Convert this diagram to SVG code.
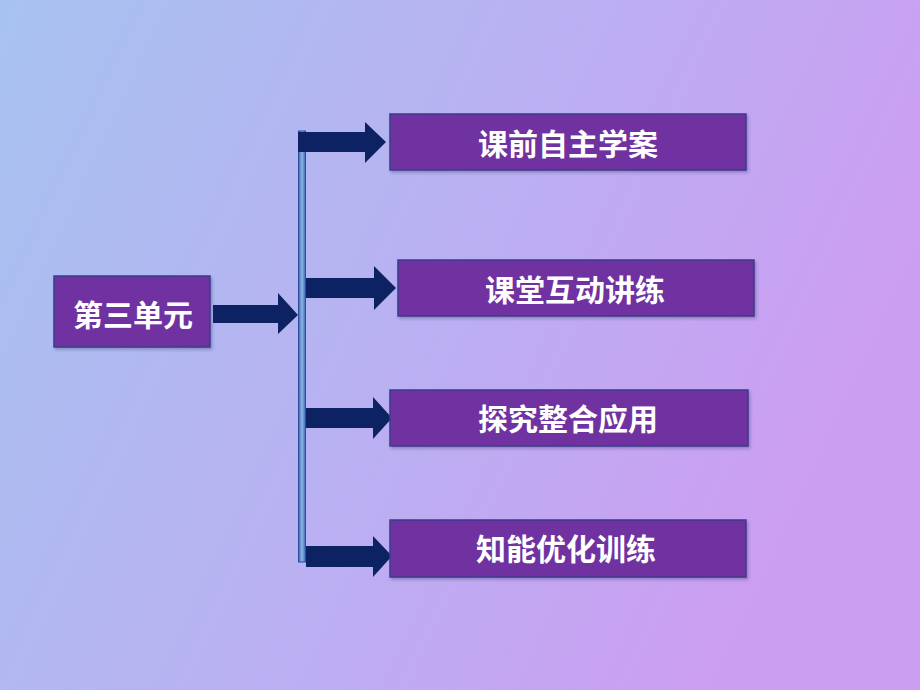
<svg xmlns="http://www.w3.org/2000/svg" width="920" height="690" viewBox="0 0 920 690">
<defs>
<linearGradient id="bg" x1="0" y1="0" x2="1" y2="0.35">
<stop offset="0" stop-color="#a7c2f0"/>
<stop offset="0.5" stop-color="#b8b2f2"/>
<stop offset="1" stop-color="#cc9ef2"/>
</linearGradient>
<linearGradient id="barg" x1="0" y1="0" x2="1" y2="0">
<stop offset="0" stop-color="#3a66b0"/>
<stop offset="0.5" stop-color="#8fb4ea"/>
<stop offset="1" stop-color="#3a66b0"/>
</linearGradient>
<filter id="sh" x="-10%" y="-20%" width="130%" height="150%">
<feDropShadow dx="1.5" dy="2" stdDeviation="1.5" flood-color="#303060" flood-opacity="0.35"/>
</filter>
<style>
.box{fill:#7030a0;stroke:#3c3c8c;stroke-width:1.5;filter:url(#sh)}
.t{fill:#ffffff;font-family:"Noto Sans CJK SC","Noto Sans CJK JP",sans-serif;font-weight:bold;font-size:30px;text-anchor:middle;dominant-baseline:central}
.arr{fill:#0d2263}
.bar{fill:url(#barg);stroke:#2a4f98;stroke-width:1}
</style>
</defs>
<rect width="920" height="690" fill="url(#bg)"/>
<g id="connectors">
<rect class="bar" x="298.5" y="131" width="7" height="431"/>
<polygon class="arr" points="298,132 365,132 365,122 386,142 365,163 365,152 298,152"/>
<polygon class="arr" points="213,305 278,305 278,293 298,315 278,334 278,323 213,323"/>
<polygon class="arr" points="306,278 374,278 374,266 396,288 374,310 374,298 306,298"/>
<polygon class="arr" points="306,408 373,408 373,397 392,418 373,439 373,428 306,428"/>
<polygon class="arr" points="306,546 373,546 373,536 392,556 373,577 373,567 306,567"/>
</g>
<g id="n0"><rect class="box" x="54" y="276" width="156" height="71"/><text class="t" x="133" y="313">第三单元</text></g>
<g id="n1"><rect class="box" x="390" y="114" width="356" height="56"/><text class="t" x="568" y="142">课前自主学案</text></g>
<g id="n2"><rect class="box" x="398" y="260" width="356" height="56"/><text class="t" x="575" y="288">课堂互动讲练</text></g>
<g id="n3"><rect class="box" x="390" y="390" width="358" height="56"/><text class="t" x="568" y="417">探究整合应用</text></g>
<g id="n4"><rect class="box" x="390" y="520" width="356" height="57"/><text class="t" x="566" y="547">知能优化训练</text></g>
</svg>
